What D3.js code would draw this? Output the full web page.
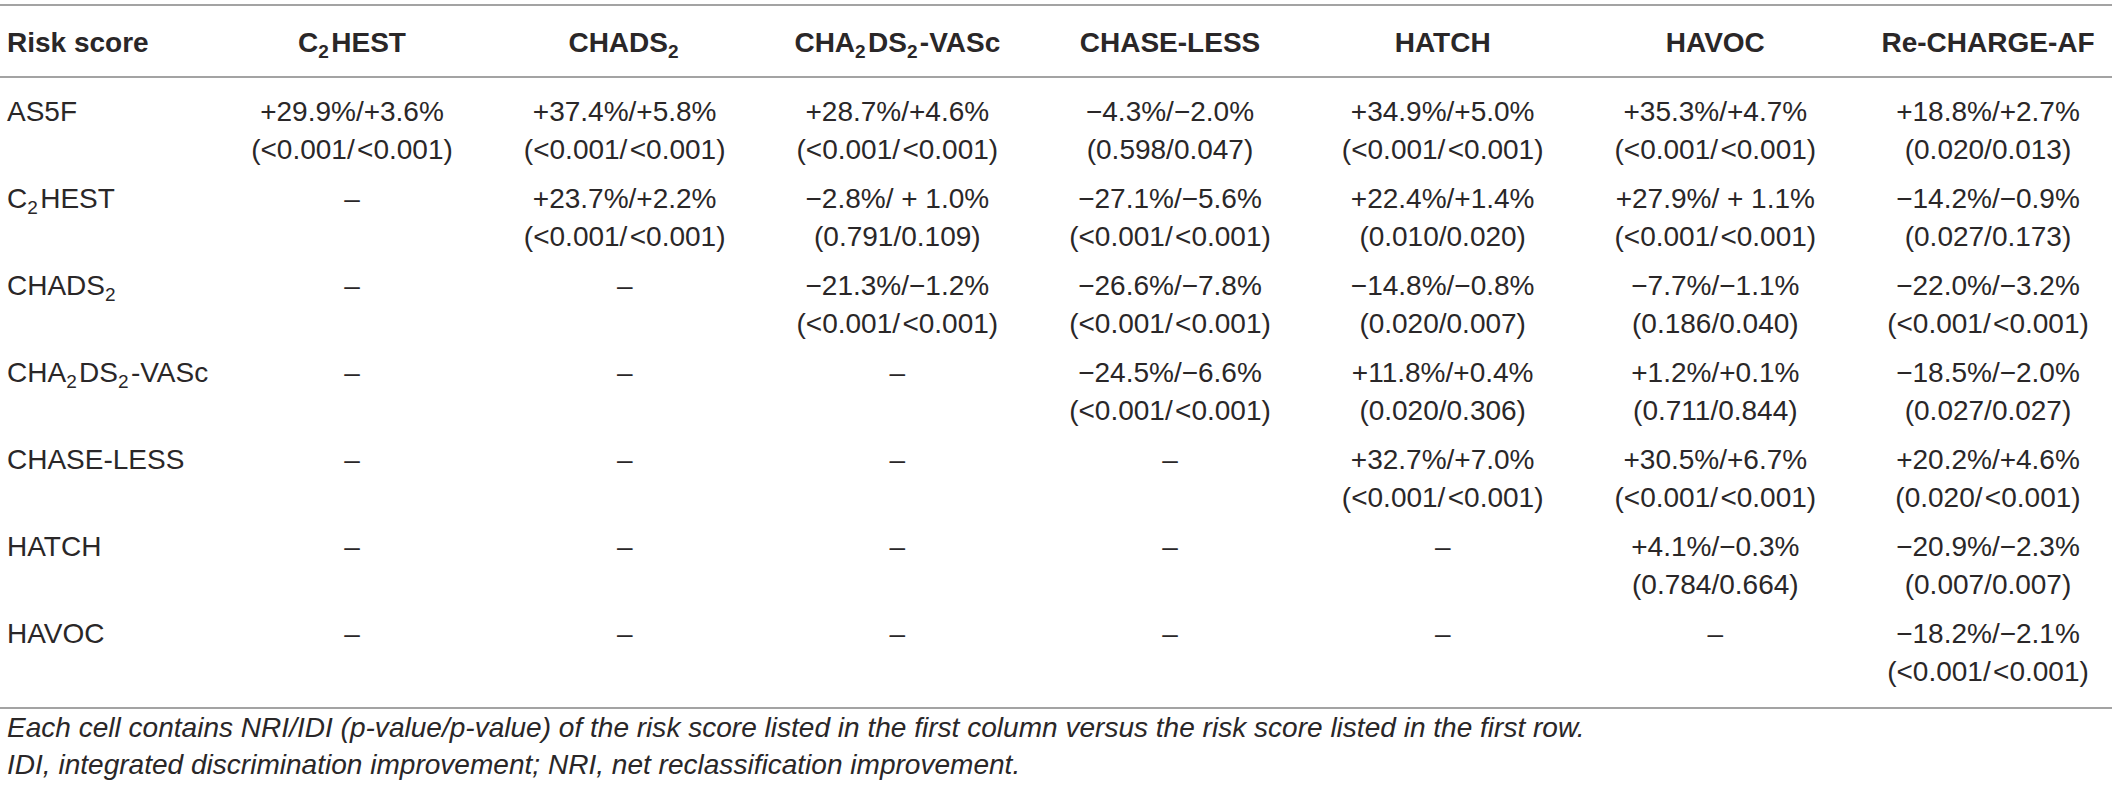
<!DOCTYPE html>
<html>
<head>
<meta charset="utf-8">
<script src="https://cdn.jsdelivr.net/npm/d3@7"></script>
<style>
  html, body { margin: 0; padding: 0; background: #fff; }
  svg { display: block; }
  text { font-family: "Liberation Sans", Arial, Helvetica, sans-serif; fill: #2a2728; }
</style>
</head>
<body>
<svg id="chart" width="2118" height="794"></svg>
<script>
// ---- data ----
const headerFirst = "Risk score";
const colLabels = ["C_2HEST", "CHADS_2", "CHA_2DS_2-VASc", "CHASE-LESS", "HATCH", "HAVOC", "Re-CHARGE-AF"];
const rowLabels = ["AS5F", "C_2HEST", "CHADS_2", "CHA_2DS_2-VASc", "CHASE-LESS", "HATCH", "HAVOC"];

// NRI/IDI per row (null = "–")
const nriIdi = [
  ["+29.9%/+3.6%", "+37.4%/+5.8%", "+28.7%/+4.6%", "\u22124.3%/\u22122.0%", "+34.9%/+5.0%", "+35.3%/+4.7%", "+18.8%/+2.7%"],
  [null, "+23.7%/+2.2%", "\u22122.8%/ + 1.0%", "\u221227.1%/\u22125.6%", "+22.4%/+1.4%", "+27.9%/ + 1.1%", "\u221214.2%/\u22120.9%"],
  [null, null, "\u221221.3%/\u22121.2%", "\u221226.6%/\u22127.8%", "\u221214.8%/\u22120.8%", "\u22127.7%/\u22121.1%", "\u221222.0%/\u22123.2%"],
  [null, null, null, "\u221224.5%/\u22126.6%", "+11.8%/+0.4%", "+1.2%/+0.1%", "\u221218.5%/\u22122.0%"],
  [null, null, null, null, "+32.7%/+7.0%", "+30.5%/+6.7%", "+20.2%/+4.6%"],
  [null, null, null, null, null, "+4.1%/\u22120.3%", "\u221220.9%/\u22122.3%"],
  [null, null, null, null, null, null, "\u221218.2%/\u22122.1%"]
];
// p-values (NRI/IDI)
const pValues = [
  ["(<0.001/<0.001)", "(<0.001/<0.001)", "(<0.001/<0.001)", "(0.598/0.047)", "(<0.001/<0.001)", "(<0.001/<0.001)", "(0.020/0.013)"],
  [null, "(<0.001/<0.001)", "(0.791/0.109)", "(<0.001/<0.001)", "(0.010/0.020)", "(<0.001/<0.001)", "(0.027/0.173)"],
  [null, null, "(<0.001/<0.001)", "(<0.001/<0.001)", "(0.020/0.007)", "(0.186/0.040)", "(<0.001/<0.001)"],
  [null, null, null, "(<0.001/<0.001)", "(0.020/0.306)", "(0.711/0.844)", "(0.027/0.027)"],
  [null, null, null, null, "(<0.001/<0.001)", "(<0.001/<0.001)", "(0.020/<0.001)"],
  [null, null, null, null, null, "(0.784/0.664)", "(0.007/0.007)"],
  [null, null, null, null, null, null, "(<0.001/<0.001)"]
];
const footnotes = [
  "Each cell contains NRI/IDI (p-value/p-value) of the risk score listed in the first column versus the risk score listed in the first row.",
  "IDI, integrated discrimination improvement; NRI, net reclassification improvement."
];
const dash = "\u2013";

// ---- layout ----
const svg = d3.select("#chart");
const x = d3.scalePoint().domain(d3.range(colLabels.length)).range([352, 1988]);
const y = d3.scalePoint().domain(d3.range(rowLabels.length)).range([121, 643]);
const lineGap = 38;
const bodySize = 28, subSize = 19;

// slight gap after "/" before "<" like the source typesetting
const typo = s => s.replace(/\/(?=<)/g, "/\u200A");

// rules
const rules = [5, 77, 708];
svg.selectAll("line.rule").data(rules).join("line")
  .attr("class", "rule")
  .attr("x1", 0).attr("x2", 2112)
  .attr("y1", d => d).attr("y2", d => d)
  .attr("stroke", "#a3a3a3").attr("stroke-width", 2);

// label with subscripts: "C_2HEST"
function addLabel(sel, label, size, sub) {
  const parts = label.split(/(_\d)/).filter(s => s.length);
  parts.forEach(p => {
    if (p[0] === "_") {
      sel.append("tspan").attr("font-size", sub).attr("dy", 6).text(p.slice(1));
      sel.append("tspan").attr("font-size", size).attr("dy", -6).text("\u200A");
    } else {
      sel.append("tspan").attr("font-size", size).text(p);
    }
  });
}

// header
svg.append("text").attr("x", 7).attr("y", 52)
  .attr("font-size", 28).attr("font-weight", "bold").text(headerFirst);
colLabels.forEach((c, i) => {
  const t = svg.append("text").attr("x", x(i)).attr("y", 52)
    .attr("text-anchor", "middle").attr("font-weight", "bold").attr("font-size", 28);
  addLabel(t, c, 28, 19);
});

// row labels
rowLabels.forEach((r, j) => {
  const t = svg.append("text").attr("x", 7).attr("y", y(j)).attr("font-size", bodySize);
  addLabel(t, r, bodySize, subSize);
});

// cells
const cells = [];
nriIdi.forEach((row, j) => row.forEach((v, i) => cells.push({ i, j, v, p: pValues[j][i] })));

const g = svg.append("g").attr("class", "cells");
g.selectAll("text.l1").data(cells).join("text")
  .attr("class", "l1")
  .attr("x", d => x(d.i)).attr("y", d => y(d.j))
  .attr("text-anchor", "middle").attr("font-size", bodySize)
  .text(d => d.v === null ? dash : typo(d.v));
g.selectAll("text.l2").data(cells.filter(d => d.p !== null)).join("text")
  .attr("class", "l2")
  .attr("x", d => x(d.i)).attr("y", d => y(d.j) + lineGap)
  .attr("text-anchor", "middle").attr("font-size", bodySize)
  .text(d => typo(d.p));

// footnotes (first line spans to ~x=1585 in the source)
const foot = svg.selectAll("text.foot").data(footnotes).join("text")
  .attr("class", "foot")
  .attr("x", 7).attr("y", (d, k) => 737 + k * 37)
  .attr("font-size", 28).attr("font-style", "italic")
  .text(d => d);
const len = foot.nodes()[0].getComputedTextLength();
const fs = Math.max(20, Math.min(30, 28 * 1578 / len));
foot.attr("font-size", fs);
</script>
</body>
</html>
